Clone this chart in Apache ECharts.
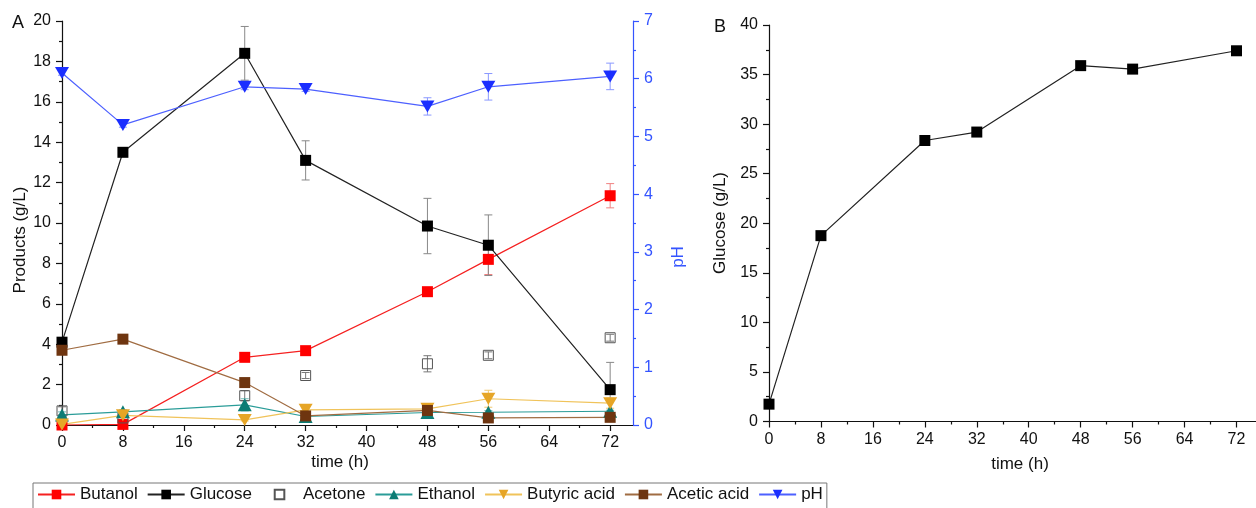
<!DOCTYPE html>
<html><head><meta charset="utf-8">
<script src="https://cdn.jsdelivr.net/npm/echarts@6/dist/echarts.min.js"></script>
<style>html,body{margin:0;padding:0;background:#fff}#c{width:1256px;height:508px}</style>
</head><body><div id="c"></div>
<script>
// ---- data ----
const times = [0, 8, 24, 32, 48, 56, 72];
const xTicks = [0, 8, 16, 24, 32, 40, 48, 56, 64, 72];
const xMinorTicks = [4, 12, 20, 28, 36, 44, 52, 60, 68];
const butanol    = [0.0, 0.03, 3.35, 3.68, 6.6, 8.2, 11.35];
const butanolErr = [0.05, 0.05, 0.1, 0.1, 0.12, 0.75, 0.6];
const glucose    = [4.1, 13.5, 18.4, 13.1, 9.85, 8.9, 1.75];
const glucoseErr = [0.15, 0.15, 1.33, 0.97, 1.37, 1.5, 1.35];
const acetone    = [0.7, 0.35, 1.45, 2.45, 3.03, 3.45, 4.32];
const acetoneErr = [0.2, 0.1, 0.25, 0.15, 0.4, 0.17, 0.17];
const ethanol    = [0.5, 0.65, 1.0, 0.42, 0.62, 0.63, 0.68];
const ethanolErr = [0.15, 0.1, 0.3, 0.05, 0.08, 0.08, 0.05];
const butyric    = [0.03, 0.48, 0.25, 0.75, 0.8, 1.3, 1.08];
const butyricErr = [0.03, 0.05, 0.05, 0.08, 0.15, 0.42, 0.25];
const acetic     = [3.7, 4.25, 2.1, 0.45, 0.72, 0.35, 0.38];
const aceticErr  = [0.1, 0.08, 0.1, 0.05, 0.1, 0.05, 0.05];
const pH         = [6.1, 5.2, 5.86, 5.82, 5.52, 5.86, 6.04];
const pHErr      = [0.04, 0.04, 0.05, 0.04, 0.15, 0.23, 0.23];
const glucoseB   = [1.75, 18.75, 28.35, 29.2, 35.9, 35.55, 37.4];
const legendNames = ['Butanol', 'Glucose', 'Acetone', 'Ethanol', 'Butyric acid', 'Acetic acid', 'pH'];

// ---- styling ----
const FF = 'Liberation Sans, Arial, sans-serif';
const BLUE = '#3454ff';
const DOWN_TRI = 'path://M0,0 L10,0 L5,9 Z';

function pts(vals) { return times.map((t, i) => [t, vals[i]]); }

function errSeries(vals, errs, color, yAxisIndex) {
  return {
    type: 'custom', xAxisIndex: 0, yAxisIndex: yAxisIndex, silent: true, z: 1,
    data: times.map((t, i) => [t, vals[i] - errs[i], vals[i] + errs[i]]),
    renderItem: function (params, api) {
      const x = api.value(0);
      const lo = api.coord([x, api.value(1)]);
      const hi = api.coord([x, api.value(2)]);
      const w = 4;
      const style = { stroke: color, lineWidth: 1, fill: null };
      return { type: 'group', children: [
        { type: 'line', shape: { x1: lo[0], y1: lo[1], x2: hi[0], y2: hi[1] }, style: style },
        { type: 'line', shape: { x1: lo[0] - w, y1: lo[1], x2: lo[0] + w, y2: lo[1] }, style: style },
        { type: 'line', shape: { x1: hi[0] - w, y1: hi[1], x2: hi[0] + w, y2: hi[1] }, style: style }
      ]};
    }
  };
}

function lineSeries(name, vals, lineColor, markColor, symbol, size, yAxisIndex) {
  return {
    type: 'line', name: name, xAxisIndex: 0, yAxisIndex: yAxisIndex || 0,
    data: pts(vals), symbol: symbol, symbolSize: size, showSymbol: true,
    lineStyle: { color: lineColor, width: 1.2 },
    itemStyle: { color: markColor, borderWidth: 0 },
    z: 3
  };
}

const axisLine = { show: true, onZero: false, lineStyle: { color: '#111', width: 1.2 } };
const labelStyle = { fontFamily: FF, fontSize: 16, color: '#111' };

function xMain(gridIndex) {
  return {
    type: 'value', gridIndex: gridIndex, position: 'bottom', min: 0, max: 75, interval: 8,
    axisLine: axisLine,
    axisTick: { show: true, length: 6, lineStyle: { color: '#111', width: 1.2 }, customValues: xTicks },
    axisLabel: Object.assign({ margin: 10, customValues: xTicks }, labelStyle),
    splitLine: { show: false }
  };
}
function xMinor(gridIndex) {
  return {
    type: 'value', gridIndex: gridIndex, position: 'bottom', offset: 0, min: 0, max: 75, interval: 4,
    axisLine: { show: false, onZero: false },
    axisTick: { show: true, length: 3, lineStyle: { color: '#111', width: 1.2 }, customValues: xMinorTicks },
    axisLabel: { show: false },
    splitLine: { show: false }
  };
}

const option = {
  animation: false,
  backgroundColor: '#fff',
  grid: [
    { left: 62, top: 21, width: 571, height: 404 },
    { left: 769, top: 25, width: 493, height: 396.5 }
  ],
  xAxis: [xMain(0), xMinor(0), xMain(1), xMinor(1)],
  yAxis: [
    { type: 'value', gridIndex: 0, position: 'left', min: 0, max: 20, interval: 2,
      axisLine: axisLine,
      axisTick: { show: true, length: 6, lineStyle: { color: '#111', width: 1.2 } },
      minorTick: { show: true, splitNumber: 2, length: 3, lineStyle: { color: '#111', width: 1.2 } },
      axisLabel: Object.assign({ margin: 11 }, labelStyle),
      splitLine: { show: false } },
    { type: 'value', gridIndex: 0, position: 'right', min: 0, max: 7, interval: 1,
      axisLine: { show: true, onZero: false, lineStyle: { color: BLUE, width: 1.2 } },
      axisTick: { show: true, length: 6, lineStyle: { color: BLUE, width: 1.2 } },
      minorTick: { show: true, splitNumber: 2, length: 3, lineStyle: { color: BLUE, width: 1.2 } },
      axisLabel: { margin: 11, fontFamily: FF, fontSize: 16, color: BLUE },
      splitLine: { show: false } },
    { type: 'value', gridIndex: 1, position: 'left', min: 0, max: 40, interval: 5,
      axisLine: axisLine,
      axisTick: { show: true, length: 6, lineStyle: { color: '#111', width: 1.2 } },
      minorTick: { show: true, splitNumber: 2, length: 3, lineStyle: { color: '#111', width: 1.2 } },
      axisLabel: Object.assign({ margin: 11 }, labelStyle),
      splitLine: { show: false } }
  ],
  legend: {
    data: legendNames,
    left: 33, top: 483,
    itemGap: 9, itemWidth: 37, itemHeight: 12,
    textStyle: { fontFamily: FF, fontSize: 17, color: '#111' },
    borderColor: '#777', borderWidth: 1, padding: [3, 4, 12, 4]
  },
  graphic: [
    { type: 'text', x: 18, y: 23, style: { text: 'A', font: '18px ' + FF, fill: '#111', align: 'center', verticalAlign: 'middle' } },
    { type: 'text', x: 720, y: 27, style: { text: 'B', font: '18px ' + FF, fill: '#111', align: 'center', verticalAlign: 'middle' } },
    { type: 'text', x: 20, y: 240, rotation: Math.PI / 2, style: { text: 'Products (g/L)', font: '17px ' + FF, fill: '#111', align: 'center', verticalAlign: 'middle' } },
    { type: 'text', x: 678, y: 257, rotation: Math.PI / 2, style: { text: 'pH', font: '17px ' + FF, fill: BLUE, align: 'center', verticalAlign: 'middle' } },
    { type: 'text', x: 720, y: 223, rotation: Math.PI / 2, style: { text: 'Glucose (g/L)', font: '17px ' + FF, fill: '#111', align: 'center', verticalAlign: 'middle' } },
    { type: 'text', x: 340, y: 462, style: { text: 'time (h)', font: '17px ' + FF, fill: '#111', align: 'center', verticalAlign: 'middle' } },
    { type: 'text', x: 1020, y: 464, style: { text: 'time (h)', font: '17px ' + FF, fill: '#111', align: 'center', verticalAlign: 'middle' } }
  ],
  series: [
    errSeries(butanol, butanolErr, '#f08080', 0),
    errSeries(glucose, glucoseErr, '#888888', 0),
    errSeries(acetone, acetoneErr, '#777777', 0),
    errSeries(ethanol, ethanolErr, '#6fb8b4', 0),
    errSeries(butyric, butyricErr, '#f0c870', 0),
    errSeries(acetic, aceticErr, '#a0806a', 0),
    errSeries(pH, pHErr, '#8a98ff', 1),
    lineSeries('Butanol', butanol, '#f52020', '#ff0000', 'rect', 11),
    lineSeries('Glucose', glucose, '#222222', '#000000', 'rect', 11),
    { type: 'line', name: 'Acetone', xAxisIndex: 0, yAxisIndex: 0, data: pts(acetone),
      symbol: 'rect', symbolSize: 10, showSymbol: true,
      lineStyle: { width: 0, opacity: 0 },
      itemStyle: { color: 'rgba(255,255,255,0)', borderColor: '#555', borderWidth: 1 }, z: 3 },
    lineSeries('Ethanol', ethanol, '#2a9c98', '#0c7c74', 'triangle', [14, 13]),
    lineSeries('Butyric acid', butyric, '#f0c35a', '#e6a526', DOWN_TRI, [14, 12]),
    lineSeries('Acetic acid', acetic, '#a06c42', '#6e3510', 'rect', 11),
    lineSeries('pH', pH, '#4d60ff', '#1a2eff', DOWN_TRI, [14, 12], 1),
    { type: 'line', name: 'GlucoseB', xAxisIndex: 2, yAxisIndex: 2, data: pts(glucoseB),
      symbol: 'rect', symbolSize: 11, lineStyle: { color: '#222', width: 1.2 },
      itemStyle: { color: '#000' }, z: 3 }
  ]
};

const chart = echarts.init(document.getElementById('c'), null, { renderer: 'canvas' });
chart.setOption(option);
</script>
</body></html>
